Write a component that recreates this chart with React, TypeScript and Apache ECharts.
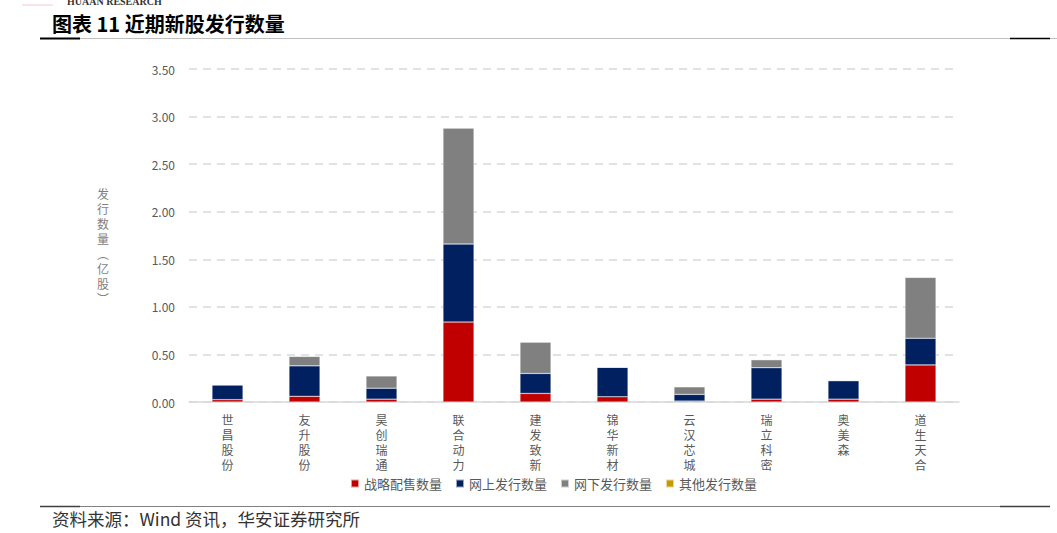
import React, { useEffect, useRef } from "react";
import * as echarts from "echarts";

const categories = ["世昌股份", "友升股份", "昊创瑞通", "联合动力", "建发致新", "锦华新材", "云汉芯城", "瑞立科密", "奥美森", "道生天合"];
const strategic = [0.025, 0.06, 0.03, 0.84, 0.09, 0.055, 0.01, 0.03, 0.03, 0.39];
const online = [0.155, 0.32, 0.115, 0.82, 0.21, 0.31, 0.07, 0.33, 0.195, 0.28];
const offline = [0, 0.1, 0.13, 1.22, 0.33, 0, 0.08, 0.085, 0, 0.64];
const other = [0, 0, 0, 0, 0, 0, 0, 0, 0, 0];
const seriesNames = ["战略配售数量", "网上发行数量", "网下发行数量", "其他发行数量"];
const seriesColors = ["#C00000", "#002060", "#808080", "#C89800"];

export default function App() {
  const ref = useRef<HTMLDivElement>(null);
  useEffect(() => {
    document.body.style.margin = "0";
    const chart = echarts.init(ref.current!, null, { renderer: "svg" });
    const data = [strategic, online, offline, other];
    const font = "'Noto Sans CJK SC', 'Noto Sans', sans-serif";
    chart.setOption({
      animation: false,
      backgroundColor: "#ffffff",
      textStyle: { fontFamily: font },
      grid: { left: 189, right: 98, top: 69, bottom: 131, containLabel: false },
      legend: {
        bottom: 38,
        left: 345,
        itemWidth: 8,
        itemHeight: 8,
        itemGap: 13,
        icon: "rect",
        textStyle: { color: "#595959", fontSize: 13, fontFamily: font },
        data: seriesNames,
      },
      xAxis: {
        type: "category",
        data: categories,
        axisLine: { lineStyle: { color: "#d9d9d9", width: 1.5 } },
        axisTick: { show: false },
        axisLabel: {
          color: "#595959",
          fontSize: 12,
          lineHeight: 15,
          margin: 10,
          interval: 0,
          formatter: (v: string) => v.split("").join("\n"),
        },
      },
      yAxis: {
        type: "value",
        min: 0,
        max: 3.5,
        interval: 0.5,
        axisLine: { show: false },
        axisTick: { show: false },
        axisLabel: {
          color: "#595959",
          fontSize: 12,
          margin: 14,
          formatter: (v: number) => v.toFixed(2),
        },
        splitLine: { lineStyle: { color: "#d9d9d9", type: [8, 6], width: 1.5 } },
      },
      series: seriesNames.map((name, i) => ({
        name,
        type: "bar",
        stack: "total",
        barWidth: 31,
        data: data[i],
        itemStyle: { color: seriesColors[i], borderColor: "rgba(255,255,255,0.6)", borderWidth: 0.5 },
      })),
      graphic: [
        { type: "line", shape: { x1: 22, y1: 5, x2: 53, y2: 5 }, style: { stroke: "#f4c7cf", lineWidth: 1 } },
        {
          type: "text",
          left: 67,
          top: -4,
          style: { text: "HUAAN RESEARCH", fill: "#333", font: "bold 10px 'Liberation Serif', serif" },
        },
        {
          type: "text",
          left: 52,
          top: 13,
          style: { text: "图表 11 近期新股发行数量", fill: "#000", font: `bold 20px ${font}` },
        },
        { type: "line", shape: { x1: 40, y1: 38.5, x2: 1057, y2: 38.5 }, style: { stroke: "#bfbfbf", lineWidth: 1 } },
        { type: "line", shape: { x1: 40, y1: 38.5, x2: 80, y2: 38.5 }, style: { stroke: "#000", lineWidth: 2 } },
        { type: "line", shape: { x1: 1010, y1: 38.5, x2: 1050, y2: 38.5 }, style: { stroke: "#000", lineWidth: 1.5 } },
        {
          type: "text",
          left: 97,
          top: 186,
          style: {
            text: "发\n行\n数\n量\n︵\n亿\n股\n︶",
            fill: "#7f7f7f",
            font: `12px ${font}`,
            lineHeight: 15,
            align: "center",
          },
        },
        { type: "line", shape: { x1: 40, y1: 506.5, x2: 1050, y2: 506.5 }, style: { stroke: "#808080", lineWidth: 1 } },
        { type: "line", shape: { x1: 40, y1: 506.5, x2: 80, y2: 506.5 }, style: { stroke: "#404040", lineWidth: 1.5 } },
        { type: "line", shape: { x1: 1000, y1: 506.5, x2: 1050, y2: 506.5 }, style: { stroke: "#404040", lineWidth: 1.5 } },
        {
          type: "text",
          left: 52,
          top: 510,
          style: { text: "资料来源：Wind 资讯，华安证券研究所", fill: "#333", font: `17.5px ${font}` },
        },
      ],
    });
    return () => chart.dispose();
  }, []);
  return <div ref={ref} style={{ width: 1057, height: 533, position: "absolute", left: 0, top: 0 }} />;
}
